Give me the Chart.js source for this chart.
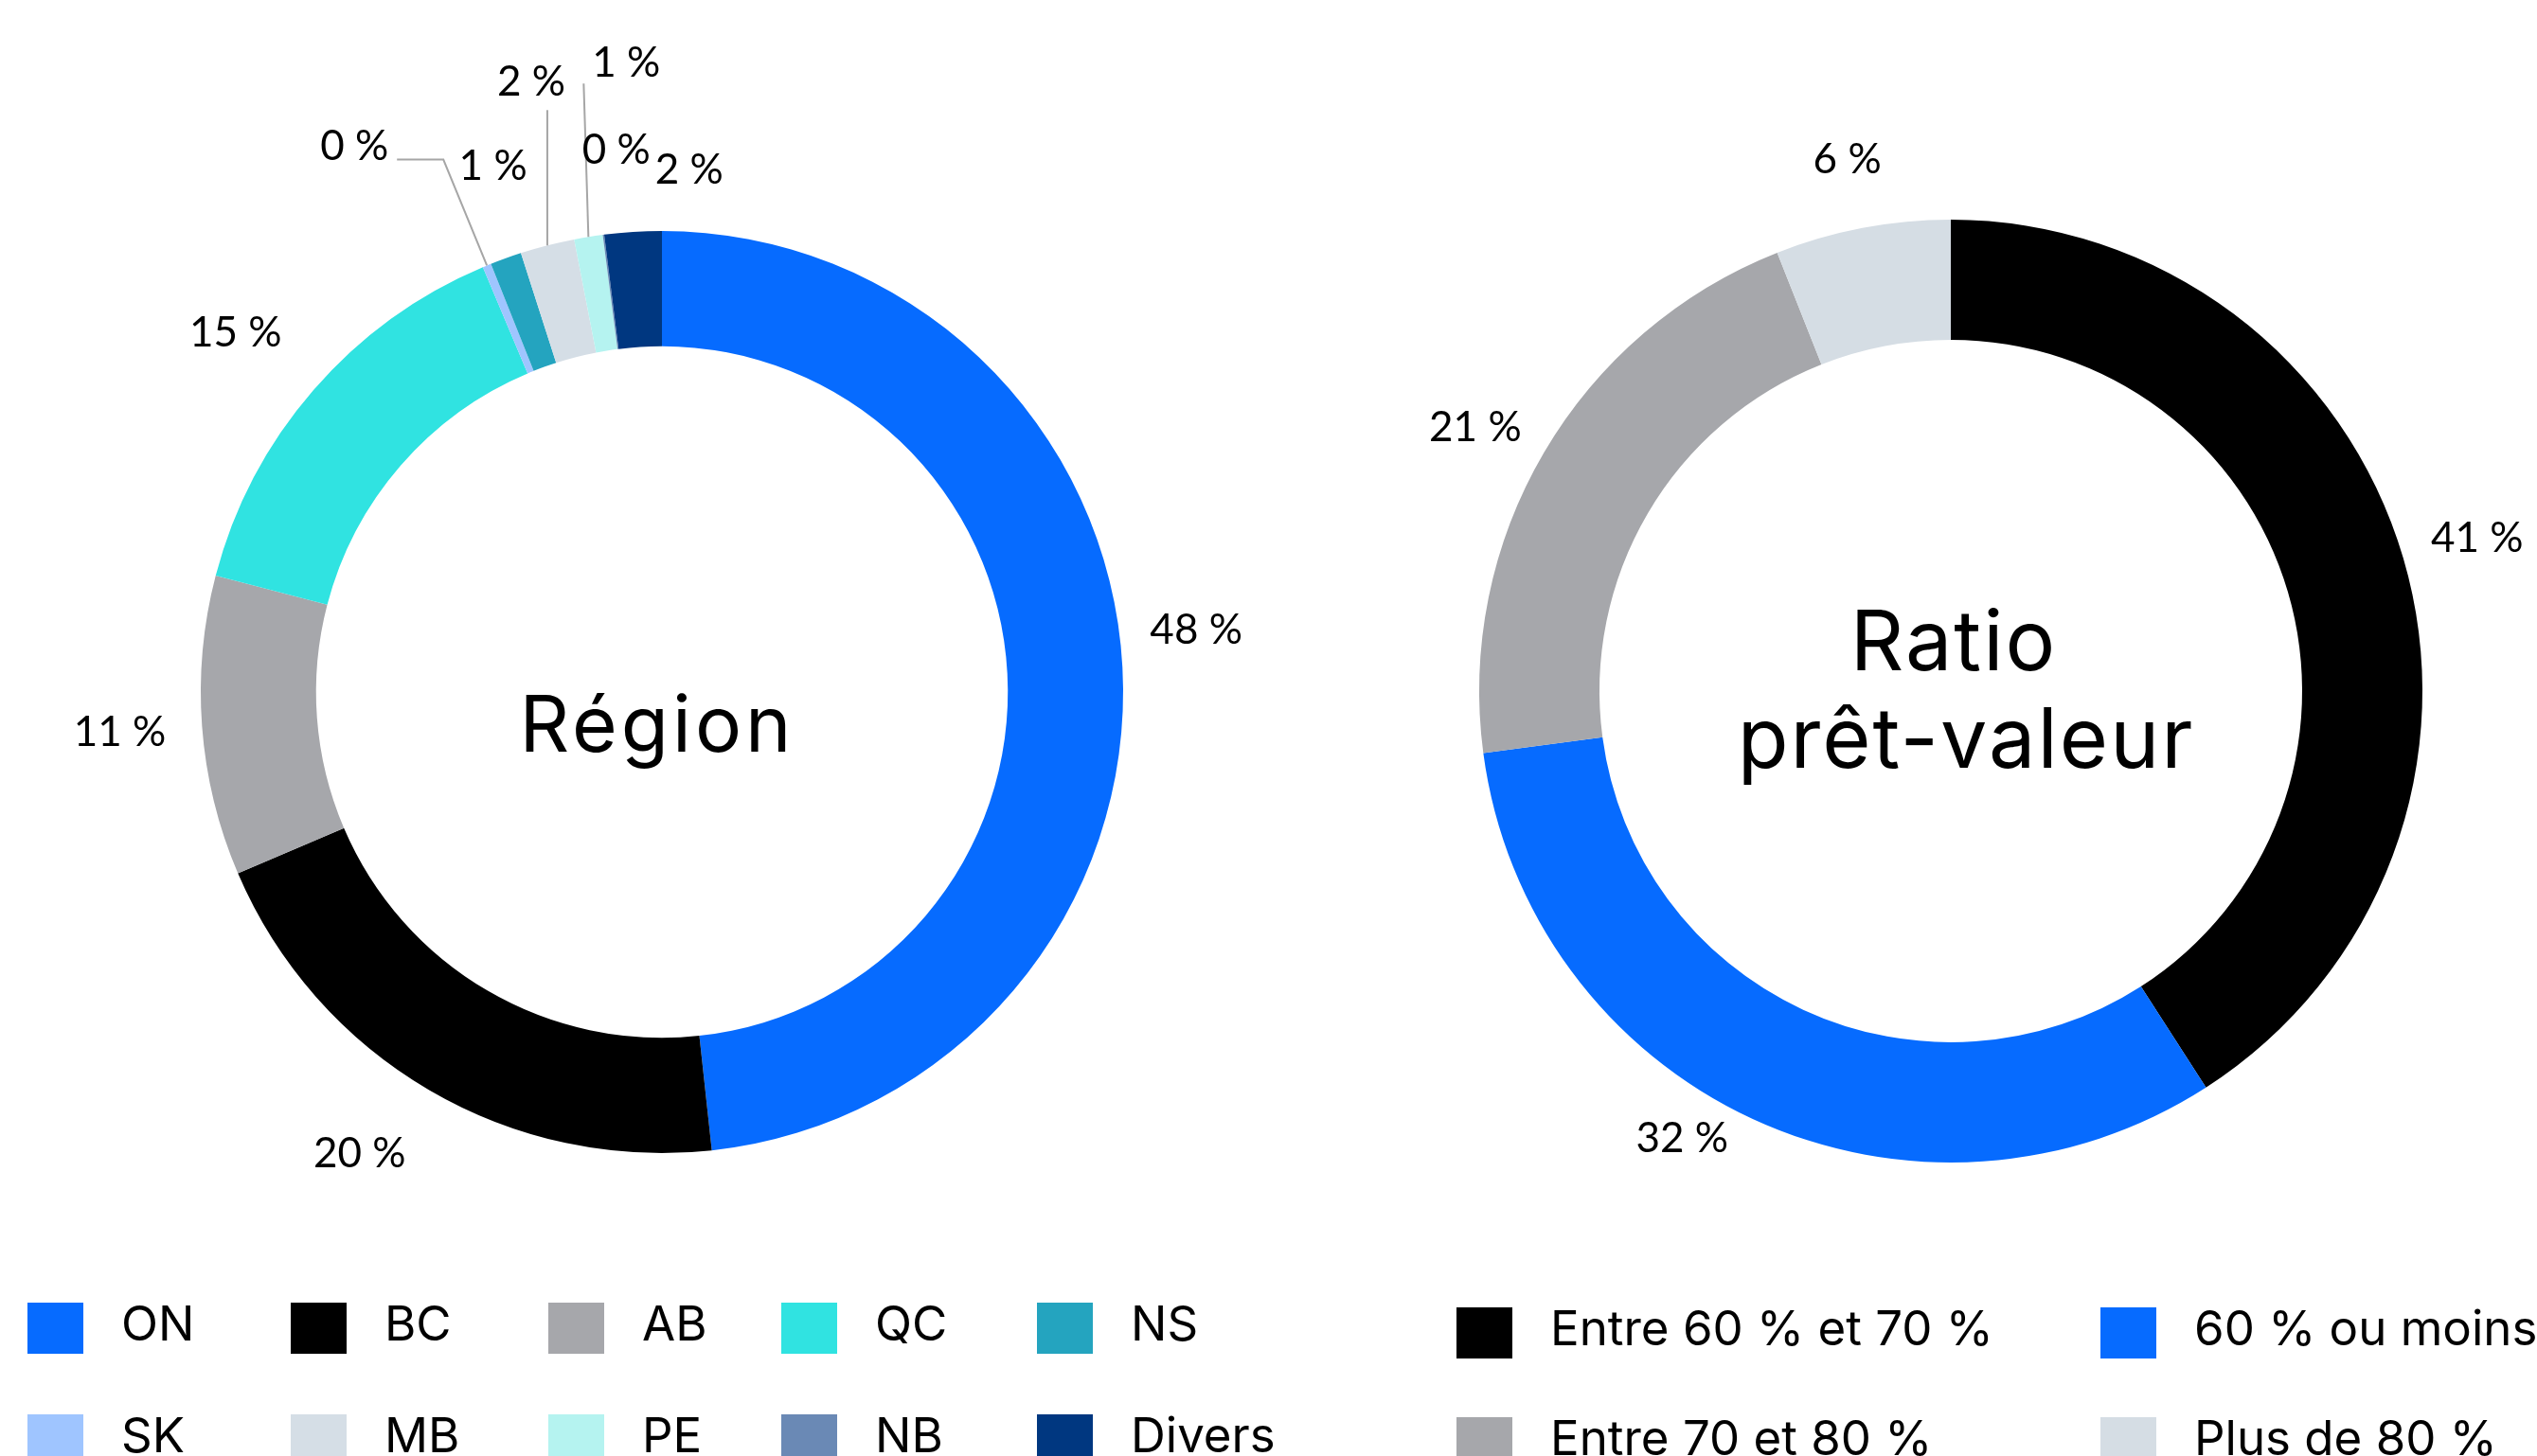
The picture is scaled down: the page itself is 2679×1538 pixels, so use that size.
<!DOCTYPE html>
<html>
<head>
<meta charset="utf-8">
<script src="https://cdn.jsdelivr.net/npm/chart.js@4.4.1/dist/chart.umd.min.js"></script>
<style>
  html, body { margin:0; padding:0; background:#fff; }
  body { width:2679px; height:1538px; overflow:hidden; position:relative; font-family: Inter, "Noto Sans", sans-serif; color:#000; }
  canvas { position:absolute; top:0; }
  #regionChart { left:0; }
  #ltvChart { left:1400px; }
  .center-title { position:absolute; text-align:center; white-space:nowrap; color:#000; }
  .legend-item { position:absolute; display:flex; align-items:center; white-space:nowrap; font-size:51px; }
  .legend-box { width:59px; height:54px; margin-right:40px; flex:none; }
  .legend-item span { position:relative; top:-5px; }
</style>
</head>
<body>
<canvas id="regionChart" width="1400" height="1330"></canvas>
<canvas id="ltvChart" width="1279" height="1330"></canvas>

<div class="center-title" style="left:394px; width:600px; top:724px; font-size:82px; line-height:82px; letter-spacing:4px;">Région</div>
<div class="center-title" style="left:1763px; width:600px; top:622px; font-size:88px; line-height:108px; letter-spacing:2px;">Ratio</div>
<div class="center-title" style="left:1776px; width:600px; top:725px; font-size:88px; line-height:108px; letter-spacing:2px;">prêt-valeur</div>

<div id="legendRegion"></div>
<div id="legendLtv"></div>

<script>
// ---------- DATA ----------
// Région (slice order, clockwise from 12 o'clock)
const regionCategories = ['ON', 'BC', 'AB', 'QC', 'SK', 'NS', 'MB', 'PE', 'NB', 'Divers'];
const regionValues     = [48.3, 20.3, 10.5, 14.6, 0.3, 1.1, 1.9, 1.0, 0.05, 2.0];
// Legend order (row by row)
const regionLegendOrder = ['ON', 'BC', 'AB', 'QC', 'NS', 'SK', 'MB', 'PE', 'NB', 'Divers'];

// Ratio prêt-valeur
const ltvCategories = ['Entre 60 % et 70 %', '60 % ou moins', 'Entre 70 et 80 %', 'Plus de 80 %'];
const ltvValues     = [40.9, 32.0, 21.1, 6.0];

// ---------- STYLES ----------
const regionColors = {
  ON: '#066BFF', BC: '#000000', AB: '#A6A7AB', QC: '#30E3E1', NS: '#24A4BF',
  SK: '#9FC5FF', MB: '#D5DEE6', PE: '#B5F3F0', NB: '#6A89B5', Divers: '#003780'
};
const ltvColors = ['#000000', '#066BFF', '#A6A7AB', '#D5DDE4'];

// ---------- LABEL PLUGIN ----------
const sliceLabels = {
  id: 'sliceLabels',
  afterDatasetsDraw(chart, args, opts) {
    const ctx = chart.ctx;
    const meta = chart.getDatasetMeta(0);
    const data = chart.data.datasets[0].data;
    ctx.save();
    ctx.font = opts.font;
    ctx.fillStyle = '#000';
    ctx.textBaseline = 'middle';
    ctx.strokeStyle = '#A6A6A6';
    ctx.lineWidth = 2;
    meta.data.forEach((arc, i) => {
      const p = arc.getProps(['x', 'y', 'startAngle', 'endAngle', 'outerRadius'], true);
      const mid = (p.startAngle + p.endAngle) / 2;
      const text = Math.round(data[i]) + '\u00a0%';
      const pl = (opts.place && opts.place[i]) || {};
      const ex = p.x + Math.cos(mid) * p.outerRadius;
      const ey = p.y + Math.sin(mid) * p.outerRadius;
      if (pl.leader === 'elbow') {
        const r2 = p.outerRadius + pl.rise;
        const bx = p.x + Math.cos(mid) * r2, by = p.y + Math.sin(mid) * r2;
        const hx = bx - pl.run;
        ctx.beginPath(); ctx.moveTo(ex, ey); ctx.lineTo(bx, by); ctx.lineTo(hx, by); ctx.stroke();
        ctx.textAlign = 'right';
        ctx.fillText(text, hx - pl.gap, by + pl.dy);
      } else if (pl.leader === 'up') {
        const ty = ey - pl.rise;
        ctx.beginPath(); ctx.moveTo(ex, ey); ctx.lineTo(ex + (pl.topDx || 0), ty); ctx.stroke();
        ctx.textAlign = 'center';
        ctx.fillText(text, ex + pl.dx, ty - pl.gap);
      } else {
        const r = p.outerRadius + opts.offset;
        ctx.textAlign = 'center';
        ctx.fillText(text, p.x + Math.cos(mid) * r + (pl.dx || 0), p.y + Math.sin(mid) * r + (pl.dy || 0));
      }
    });
    ctx.restore();
  }
};

const labelFont = '44px Lato, "Open Sans", sans-serif';

// ---------- CHARTS ----------
new Chart(document.getElementById('regionChart'), {
  type: 'doughnut',
  data: {
    labels: regionCategories,
    datasets: [{ data: regionValues, backgroundColor: regionCategories.map(c => regionColors[c]), borderWidth: 0 }]
  },
  options: {
    responsive: false, animation: false, cutout: '75%',
    layout: { padding: { left: 212, top: 244, right: 214, bottom: 112 } },
    plugins: {
      legend: { display: false }, tooltip: { enabled: false },
      sliceLabels: {
        font: labelFont, offset: 90,
        place: {
          0: { dx: -12, dy: -34 },
          1: { dx: -28, dy: -10 },
          2: { dx: 3, dy: 0 },
          3: { dx: -14, dy: -2 },
          4: { leader: 'elbow', rise: 121, run: 49, gap: 9, dy: -14 },
          5: { dx: 17, dy: -12 },
          6: { leader: 'up', rise: 143, dx: -17, gap: 29 },
          7: { leader: 'up', rise: 162, dx: 40, gap: 21, topDx: -5 },
          8: { dx: 25, dy: 0 },
          9: { dx: 65, dy: 25 }
        }
      }
    }
  },
  plugins: [sliceLabels]
});

new Chart(document.getElementById('ltvChart'), {
  type: 'doughnut',
  data: {
    labels: ltvCategories,
    datasets: [{ data: ltvValues, backgroundColor: ltvColors, borderWidth: 0 }]
  },
  options: {
    responsive: false, animation: false, cutout: '74.5%',
    layout: { padding: { left: 162, top: 232, right: 121, bottom: 102 } },
    plugins: {
      legend: { display: false }, tooltip: { enabled: false },
      sliceLabels: {
        font: labelFont, offset: 75,
        place: {
          0: { dx: 6, dy: 0 },
          1: { dx: -43, dy: -47 },
          2: { dx: -8, dy: 12 },
          3: { dx: -2, dy: 2 }
        }
      }
    }
  },
  plugins: [sliceLabels]
});

// ---------- LEGENDS ----------
function buildLegend(containerId, names, colorOf, cols, rows) {
  const el = document.getElementById(containerId);
  names.forEach((name, i) => {
    const c = i % cols.length, r = Math.floor(i / cols.length);
    const item = document.createElement('div');
    item.className = 'legend-item';
    item.style.left = cols[c] + 'px';
    item.style.top = rows[r] + 'px';
    const box = document.createElement('div');
    box.className = 'legend-box';
    box.style.background = colorOf(name, i);
    const txt = document.createElement('span');
    txt.textContent = name;
    item.appendChild(box); item.appendChild(txt);
    el.appendChild(item);
  });
}
buildLegend('legendRegion', regionLegendOrder, n => regionColors[n], [29, 307, 579, 825, 1095], [1372, 1490]);
buildLegend('legendLtv', ltvCategories, (n, i) => ltvColors[i], [1538, 2218], [1377, 1493]);
</script>
</body>
</html>
